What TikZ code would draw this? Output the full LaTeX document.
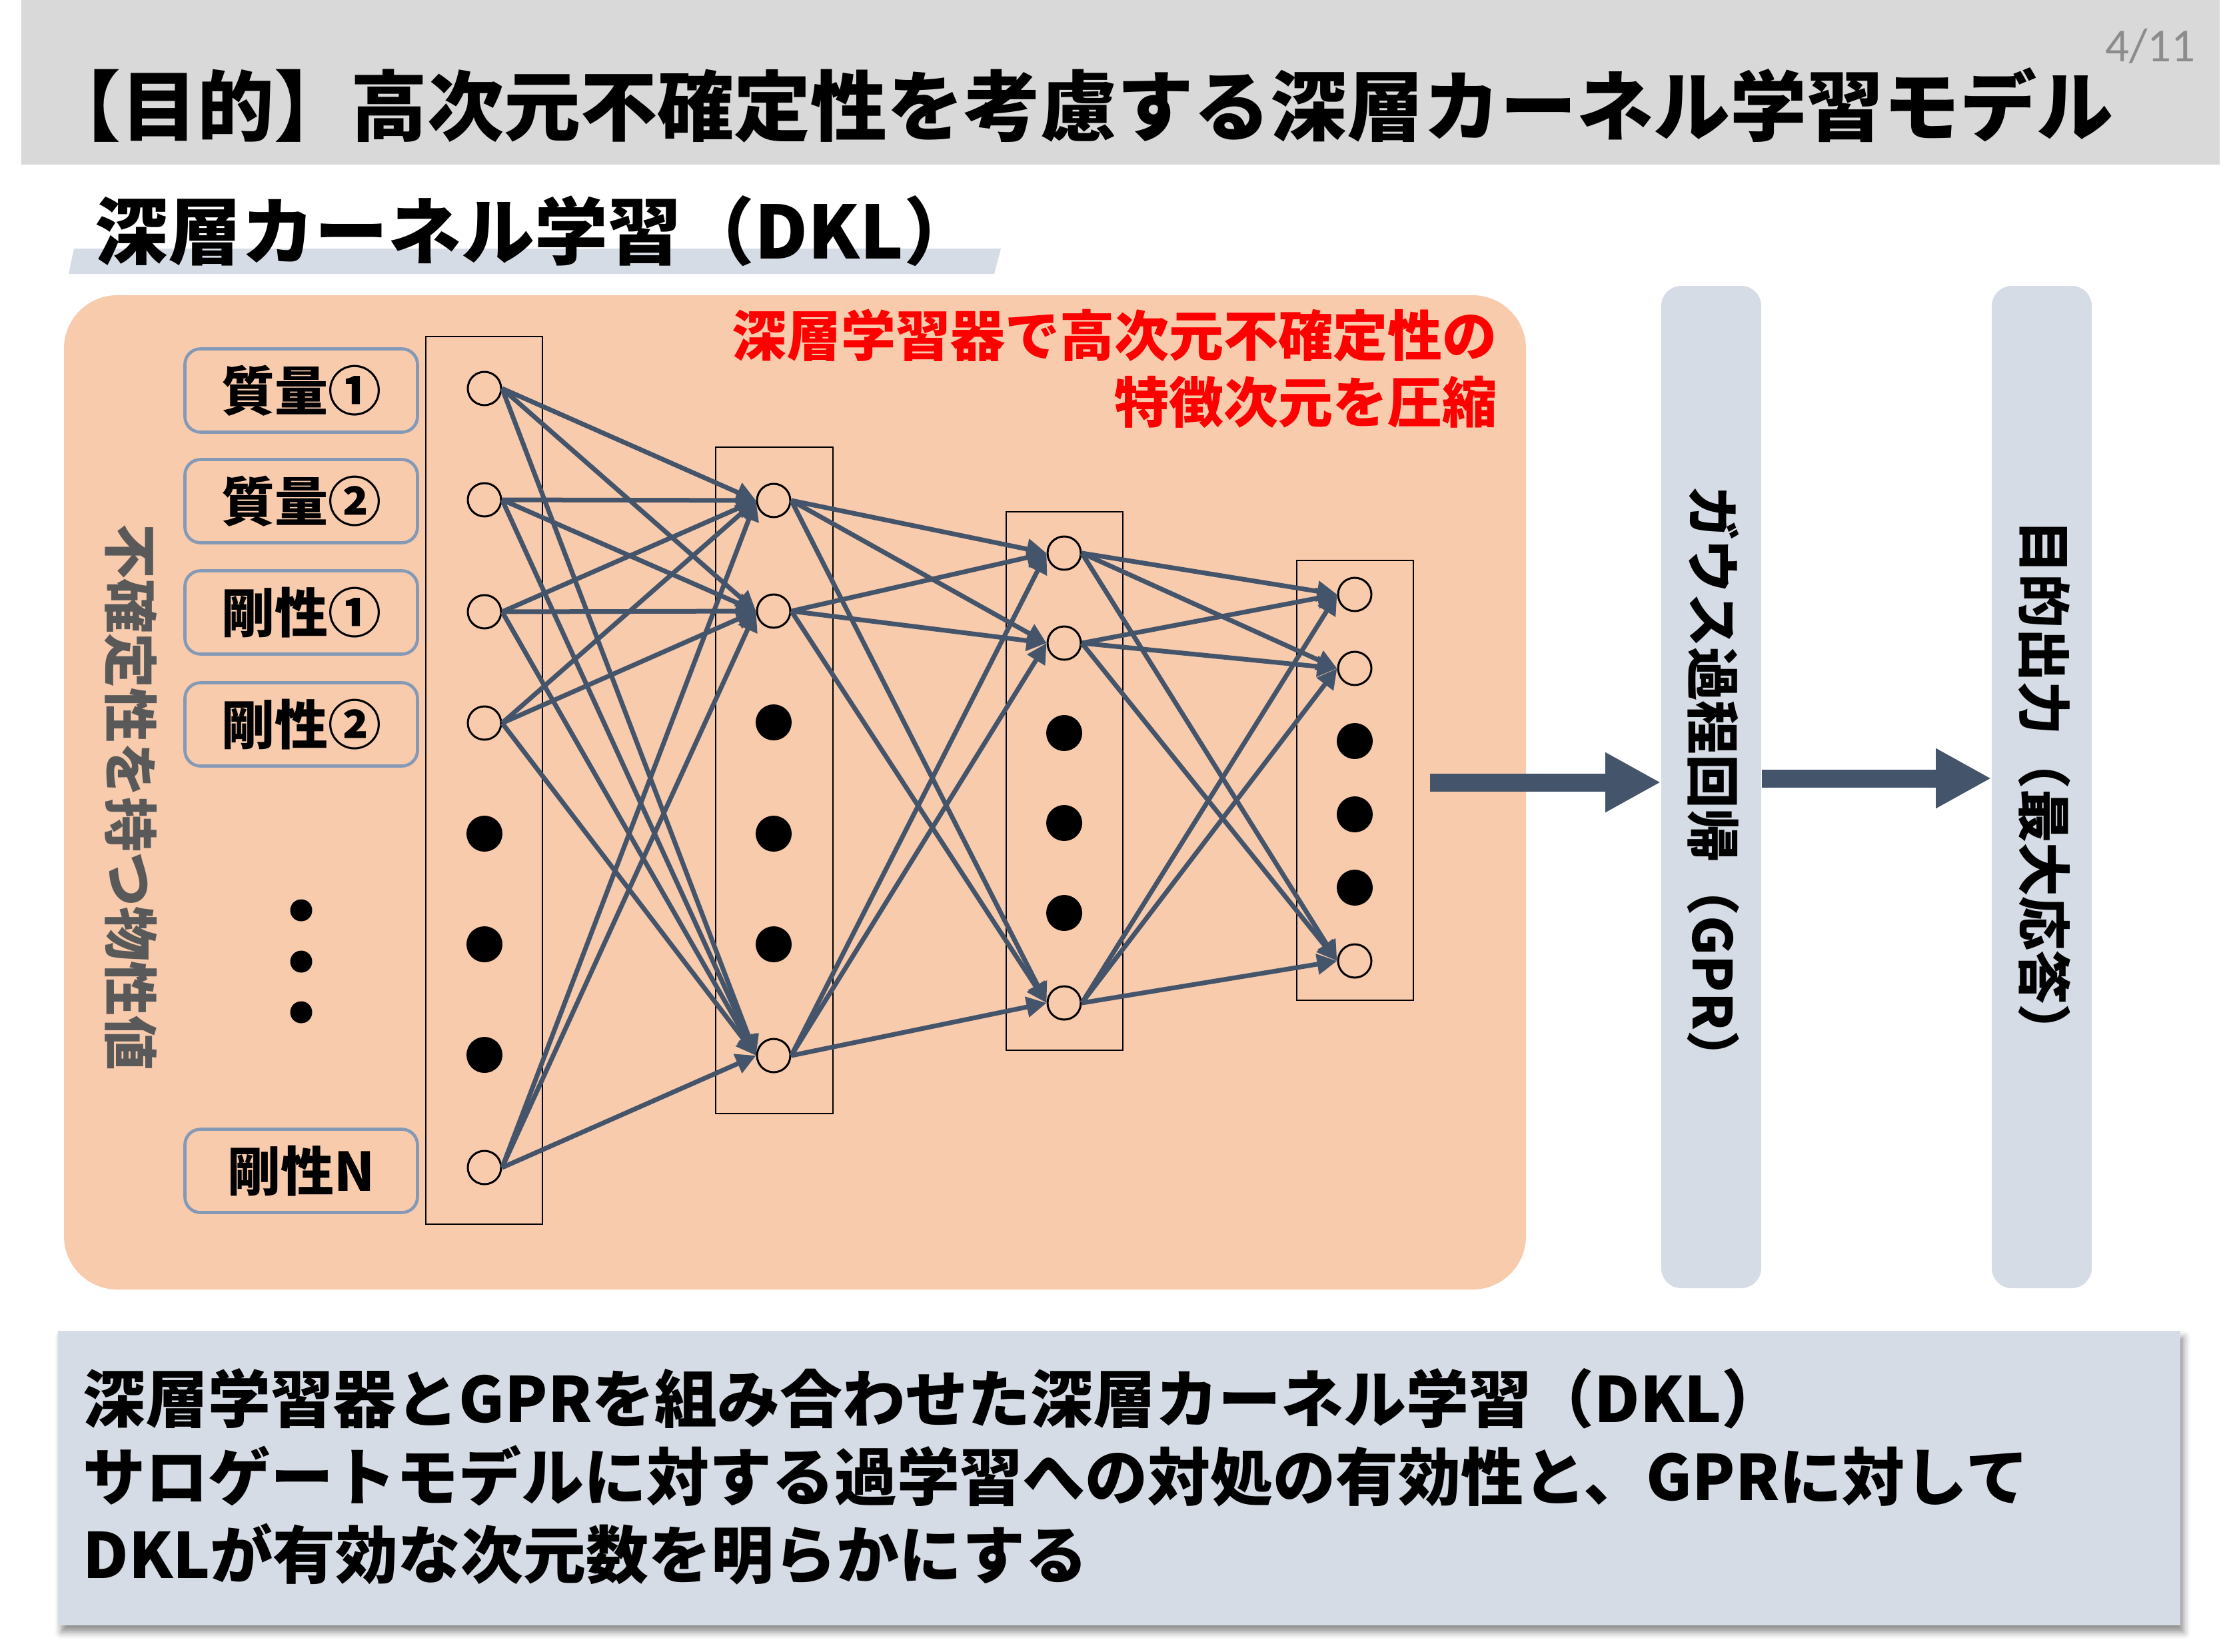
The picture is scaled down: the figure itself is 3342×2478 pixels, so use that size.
\documentclass[tikz,border=0pt]{standalone}
\usepackage{fontspec}
\setmainfont{Noto Sans CJK JP}
\newfontfamily\numfont{Carlito}
\usetikzlibrary{arrows.meta,shadows.blur,calc}

\definecolor{titlegray}{HTML}{D9D9D9}
\definecolor{panelblue}{HTML}{D6DCE5}
\definecolor{peach}{HTML}{F8CBAD}
\definecolor{slate}{HTML}{44546A}
\definecolor{inputedge}{RGB}{132,153,182}
\definecolor{labelgray}{HTML}{595959}
\definecolor{pagegray}{HTML}{8C8C8C}

\newcommand{\fsz}[2]{\fontsize{#1}{#2}\selectfont}

\begin{document}
\begin{tikzpicture}[x=0.3pt,y=-0.3pt,
  unit/.style={circle,draw=black,line width=0.9pt,fill=peach,minimum size=15pt,inner sep=0pt},
  hidden/.style={circle,fill=black,minimum size=16.2pt,inner sep=0pt},
  smalldot/.style={circle,fill=black,minimum size=9.9pt,inner sep=0pt},
  layerbox/.style={draw=black,line width=0.75pt},
  conn/.style={draw=slate,line width=2.1pt,-{Triangle[length=9pt,width=9pt]}},
  bigarrow/.style={draw=slate,line width=8.1pt,-{Triangle[length=25pt,width=25.2pt]}},
  inputbox/.style={draw=inputedge,line width=1.4pt,rounded corners=7pt,fill=peach,
    minimum width=104.7pt,minimum height=37.5pt,inner sep=0pt,
    font=\bfseries\fsz{24}{28}},
  stagebox/.style={fill=panelblue,rounded corners=9pt,minimum width=45pt,
    minimum height=451.2pt,inner sep=0pt},
  stagetext/.style={rotate=-90,inner sep=0pt,font=\bfseries\fsz{24.2}{28}},
]
\useasboundingbox (0,0) rectangle (3342,2478);

% title bar and page number
\fill[titlegray] (32,0) rectangle (3331,247);
\node[anchor=west,inner sep=0pt,font=\bfseries\fsz{34.5}{40}] (title) at (66,158)
  {【目的】高次元不確定性を考慮する深層カーネル学習モデル};
\node[anchor=base east,inner sep=0pt,text=pagegray,font=\numfont\fsz{21.3}{24}] (page)
  at (3295,92) {4/11};

% section heading with its underline band
\fill[panelblue] (111,373) -- (1502,373) -- (1492,411) -- (103,411) -- cycle;
\node[anchor=west,inner sep=0pt,font=\bfseries\fsz{33}{38}] (heading) at (142,347)
  {深層カーネル学習（DKL）};

% network panel
\fill[peach,rounded corners=24pt] (96,443) rectangle (2290,1935);

\node[anchor=east,align=right,inner sep=0pt,text=red,font=\bfseries\fsz{24.6}{30}]
  (note) at (2247,553) {深層学習器で高次元不確定性の\\特徴次元を圧縮};

\node[rotate=-90,inner sep=0pt,text=labelgray,font=\bfseries\fsz{24.6}{28}] (inlabel)
  at (196,1196) {不確定性を持つ物性値};

% input quantities
\node[inputbox] (m1) at (452,586) {質量①};
\node[inputbox] (m2) at (452,752) {質量②};
\node[inputbox] (k1) at (452,919) {剛性①};
\node[inputbox] (k2) at (452,1087) {剛性②};
\node[inputbox] (kn) at (452,1757) {剛性N};
\node[smalldot] (v1) at (452,1366) {};
\node[smalldot] (v2) at (452,1443) {};
\node[smalldot] (v3) at (452,1519) {};

% layer frames
\draw[layerbox] (639,505) rectangle (814,1837);
\draw[layerbox] (1074,671) rectangle (1250,1671);
\draw[layerbox] (1510,768) rectangle (1685,1576);
\draw[layerbox] (1946,841) rectangle (2121,1501);

% layer 1
\node[unit] (a1) at (727,583) {};
\node[unit] (a2) at (727,750) {};
\node[unit] (a3) at (727,918) {};
\node[unit] (a4) at (727,1085) {};
\node[hidden] (ah1) at (727,1251) {};
\node[hidden] (ah2) at (727,1417) {};
\node[hidden] (ah3) at (727,1583) {};
\node[unit] (a5) at (727,1752) {};

% layer 2
\node[unit] (b1) at (1161,751) {};
\node[unit] (b2) at (1161,917) {};
\node[hidden] (bh1) at (1161,1084) {};
\node[hidden] (bh2) at (1161,1251) {};
\node[hidden] (bh3) at (1161,1417) {};
\node[unit] (b3) at (1161,1584) {};

% layer 3
\node[unit] (c1) at (1597,830) {};
\node[unit] (c2) at (1597,965) {};
\node[hidden] (ch1) at (1597,1100) {};
\node[hidden] (ch2) at (1597,1235) {};
\node[hidden] (ch3) at (1597,1370) {};
\node[unit] (c3) at (1597,1505) {};

% layer 4
\node[unit] (d1) at (2033,892) {};
\node[unit] (d2) at (2033,1003) {};
\node[hidden] (dh1) at (2033,1112) {};
\node[hidden] (dh2) at (2033,1222) {};
\node[hidden] (dh3) at (2033,1332) {};
\node[unit] (d3) at (2033,1442) {};

% fully connected links between the layers
\foreach \s in {a1,a2,a3,a4,a5}
  \foreach \t in {b1,b2,b3}
    \draw[conn] (\s.east) -- (\t.west);
\foreach \s in {b1,b2,b3}
  \foreach \t in {c1,c2,c3}
    \draw[conn] (\s.east) -- (\t.west);
\foreach \s in {c1,c2,c3}
  \foreach \t in {d1,d2,d3}
    \draw[conn] (\s.east) -- (\t.west);

% regression and output stages
\node[stagebox] (gpr) at (2568,1181) {};
\node[stagebox] (res) at (3064,1181) {};
\node[stagetext] (gprtext) at (2571,1178) {ガウス過程回帰（GPR）};
\node[stagetext] (restext) at (3068,1184) {目的出力（最大応答）};

\coordinate (nnout) at (2146,1174);
\draw[bigarrow] (nnout) -- (nnout -| gpr.west);
\draw[bigarrow] ([yshift=3.9pt]gpr.east) -- ([yshift=3.9pt]res.west);

% summary box
\fill[panelblue,blur shadow={shadow xshift=1.5pt,shadow yshift=-3pt,shadow blur radius=3pt,shadow opacity=45}]
  (87,1997) rectangle (3272,2439);
\node[anchor=west,align=left,inner sep=0pt,font=\bfseries\fsz{28.2}{35.1}] (summary)
  at (124,2216)
  {深層学習器とGPRを組み合わせた深層カーネル学習（DKL）\\
   サロゲートモデルに対する過学習への対処の有効性と、GPRに対して\\
   DKLが有効な次元数を明らかにする};
\end{tikzpicture}
\end{document}
